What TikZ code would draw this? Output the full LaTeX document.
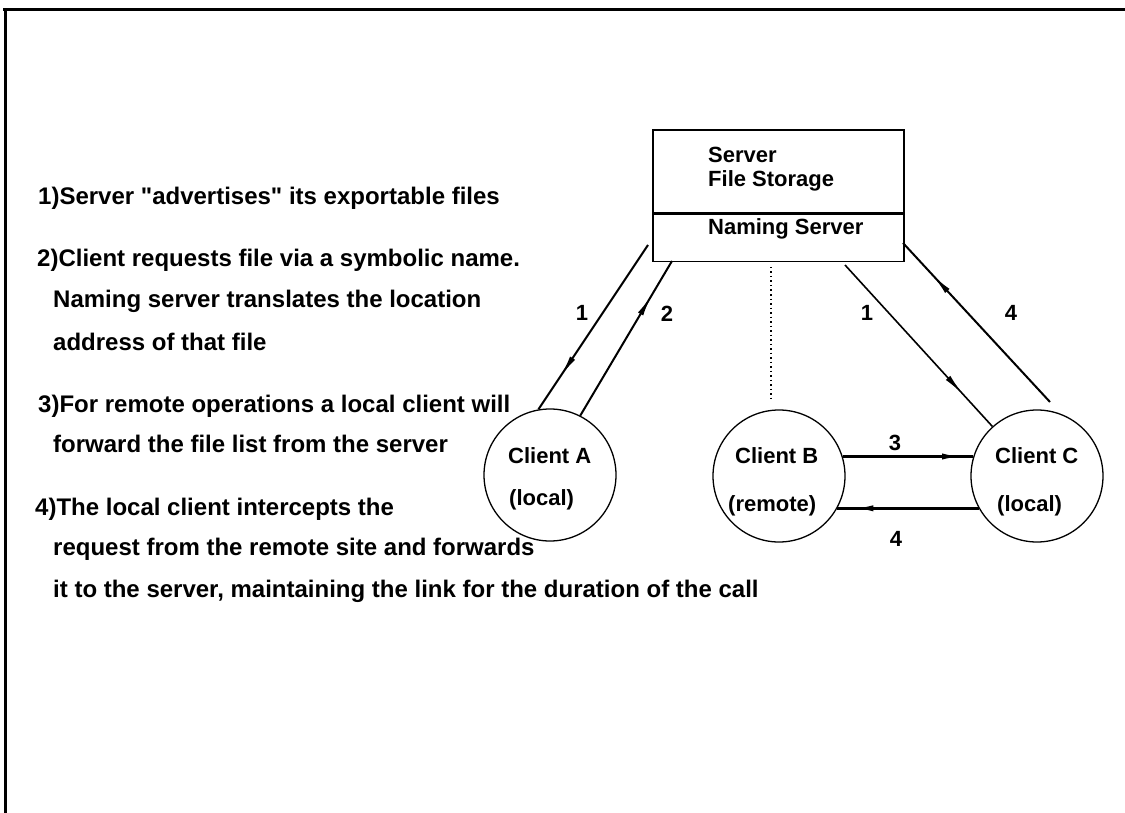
\documentclass[tikz,border=0pt]{standalone}
\usepackage{fontspec}
\setmainfont{Liberation Sans}
\usetikzlibrary{arrows.meta,decorations.markings}

\tikzset{
  listtext/.style={anchor=base west, inner sep=0pt, font=\fontsize{24}{28}\selectfont\bfseries},
  boxlabel/.style={anchor=base west, inner sep=0pt, font=\fontsize{22}{26}\selectfont\bfseries},
  edgenum/.style={anchor=base, inner sep=0pt, font=\fontsize{22}{26}\selectfont\bfseries},
  panel/.style={draw, line width=1.6pt, minimum width=251pt, inner sep=0pt},
  client/.style={circle, draw, line width=1.3pt, minimum size=132pt, inner sep=0pt},
  link/.style={line width=2pt},
  heavylink/.style={line width=2.6pt},
  midtip/.style={postaction={decorate},
    decoration={markings, mark=at position #1 with {\arrow{Latex[length=22pt,width=6pt]}}}},
}

\begin{document}
\begin{tikzpicture}[x=1pt, y=-1pt]
\useasboundingbox (0,0) rectangle (1125,813);

% page frame (top and left edges only)
\draw[line width=3pt] (3,10) -- (1125,10);
\draw[line width=3pt] (5,10) -- (5,813);

% explanatory list
\node[listtext] (n1)  at (38,205) {1)Server \textquotedbl advertises\textquotedbl\ its exportable files};
\node[listtext] (n2a) at (37,267) {2)Client requests file via a symbolic name.};
\node[listtext] (n2b) at (53,308) {Naming server translates the location};
\node[listtext] (n2c) at (53,350) {address of that file};
\node[listtext] (n3a) at (38,412) {3)For remote operations a local client will};
\node[listtext] (n3b) at (53,452) {forward the file list from the server};
\node[listtext] (n4a) at (35,515) {4)The local client intercepts the};
\node[listtext] (n4b) at (53,555) {request from the remote site and forwards};
\node[listtext] (n4c) at (53,597) {it to the server, maintaining the link for the duration of the call};

% server box
\node[panel, minimum height=83pt, anchor=north west] (srvtop) at (652,129) {};
\node[panel, minimum height=47pt, anchor=north] (srvbot) at (srvtop.south) {};
\node[boxlabel] (srv1) at (708,163) {Server};
\node[boxlabel] (srv2) at (708,187) {File Storage};
\node[boxlabel] (srv3) at (708,235) {Naming Server};

% clients
\node[client] (cA) at (550,475) {};
\node[client] (cB) at (779,476) {};
\node[client] (cC) at (1037,476) {};
\node[boxlabel] (cA1) at (508,463) {Client A};
\node[boxlabel] (cA2) at (509,505) {(local)};
\node[boxlabel] (cB1) at (735,463) {Client B};
\node[boxlabel] (cB2) at (728,511) {(remote)};
\node[boxlabel] (cC1) at (995,463) {Client C};
\node[boxlabel] (cC2) at (997,511) {(local)};

% loose ends of the connectors near the server
\coordinate (sA1) at (648,245);
\coordinate (sA2) at (672,261);
\coordinate (sB)  at (771,267);
\coordinate (eB)  at (771,402);
\coordinate (sC1) at (845,265);
\coordinate (sC4) at (903,243);
\coordinate (eC4) at (1050,402);

% connectors
\draw[link, midtip=0.8] (sA1) -- (cA.100);
\draw[link, midtip=0.78] (cA.63) -- (sA2);
\draw[line width=1.5pt, dash pattern=on 1.5pt off 3pt] (sB) -- (eB);
\draw[link, line width=1.6pt, midtip=0.8] (sC1) -- (cC.132);
\draw[link, midtip=0.8] (eC4) -- (sC4);
\draw[heavylink, midtip=0.93] (cB.17) -- (cC.163);
\draw[heavylink, midtip=0.9] (cC.209) -- (cB.-29);

% connector numbers
\node[edgenum] (l1a) at (582,320) {1};
\node[edgenum] (l2)  at (667,321) {2};
\node[edgenum] (l1c) at (867,320) {1};
\node[edgenum] (l4c) at (1011,320) {4};
\node[edgenum] (l3)  at (895,450) {3};
\node[edgenum] (l4b) at (896,546) {4};
\end{tikzpicture}
\end{document}
